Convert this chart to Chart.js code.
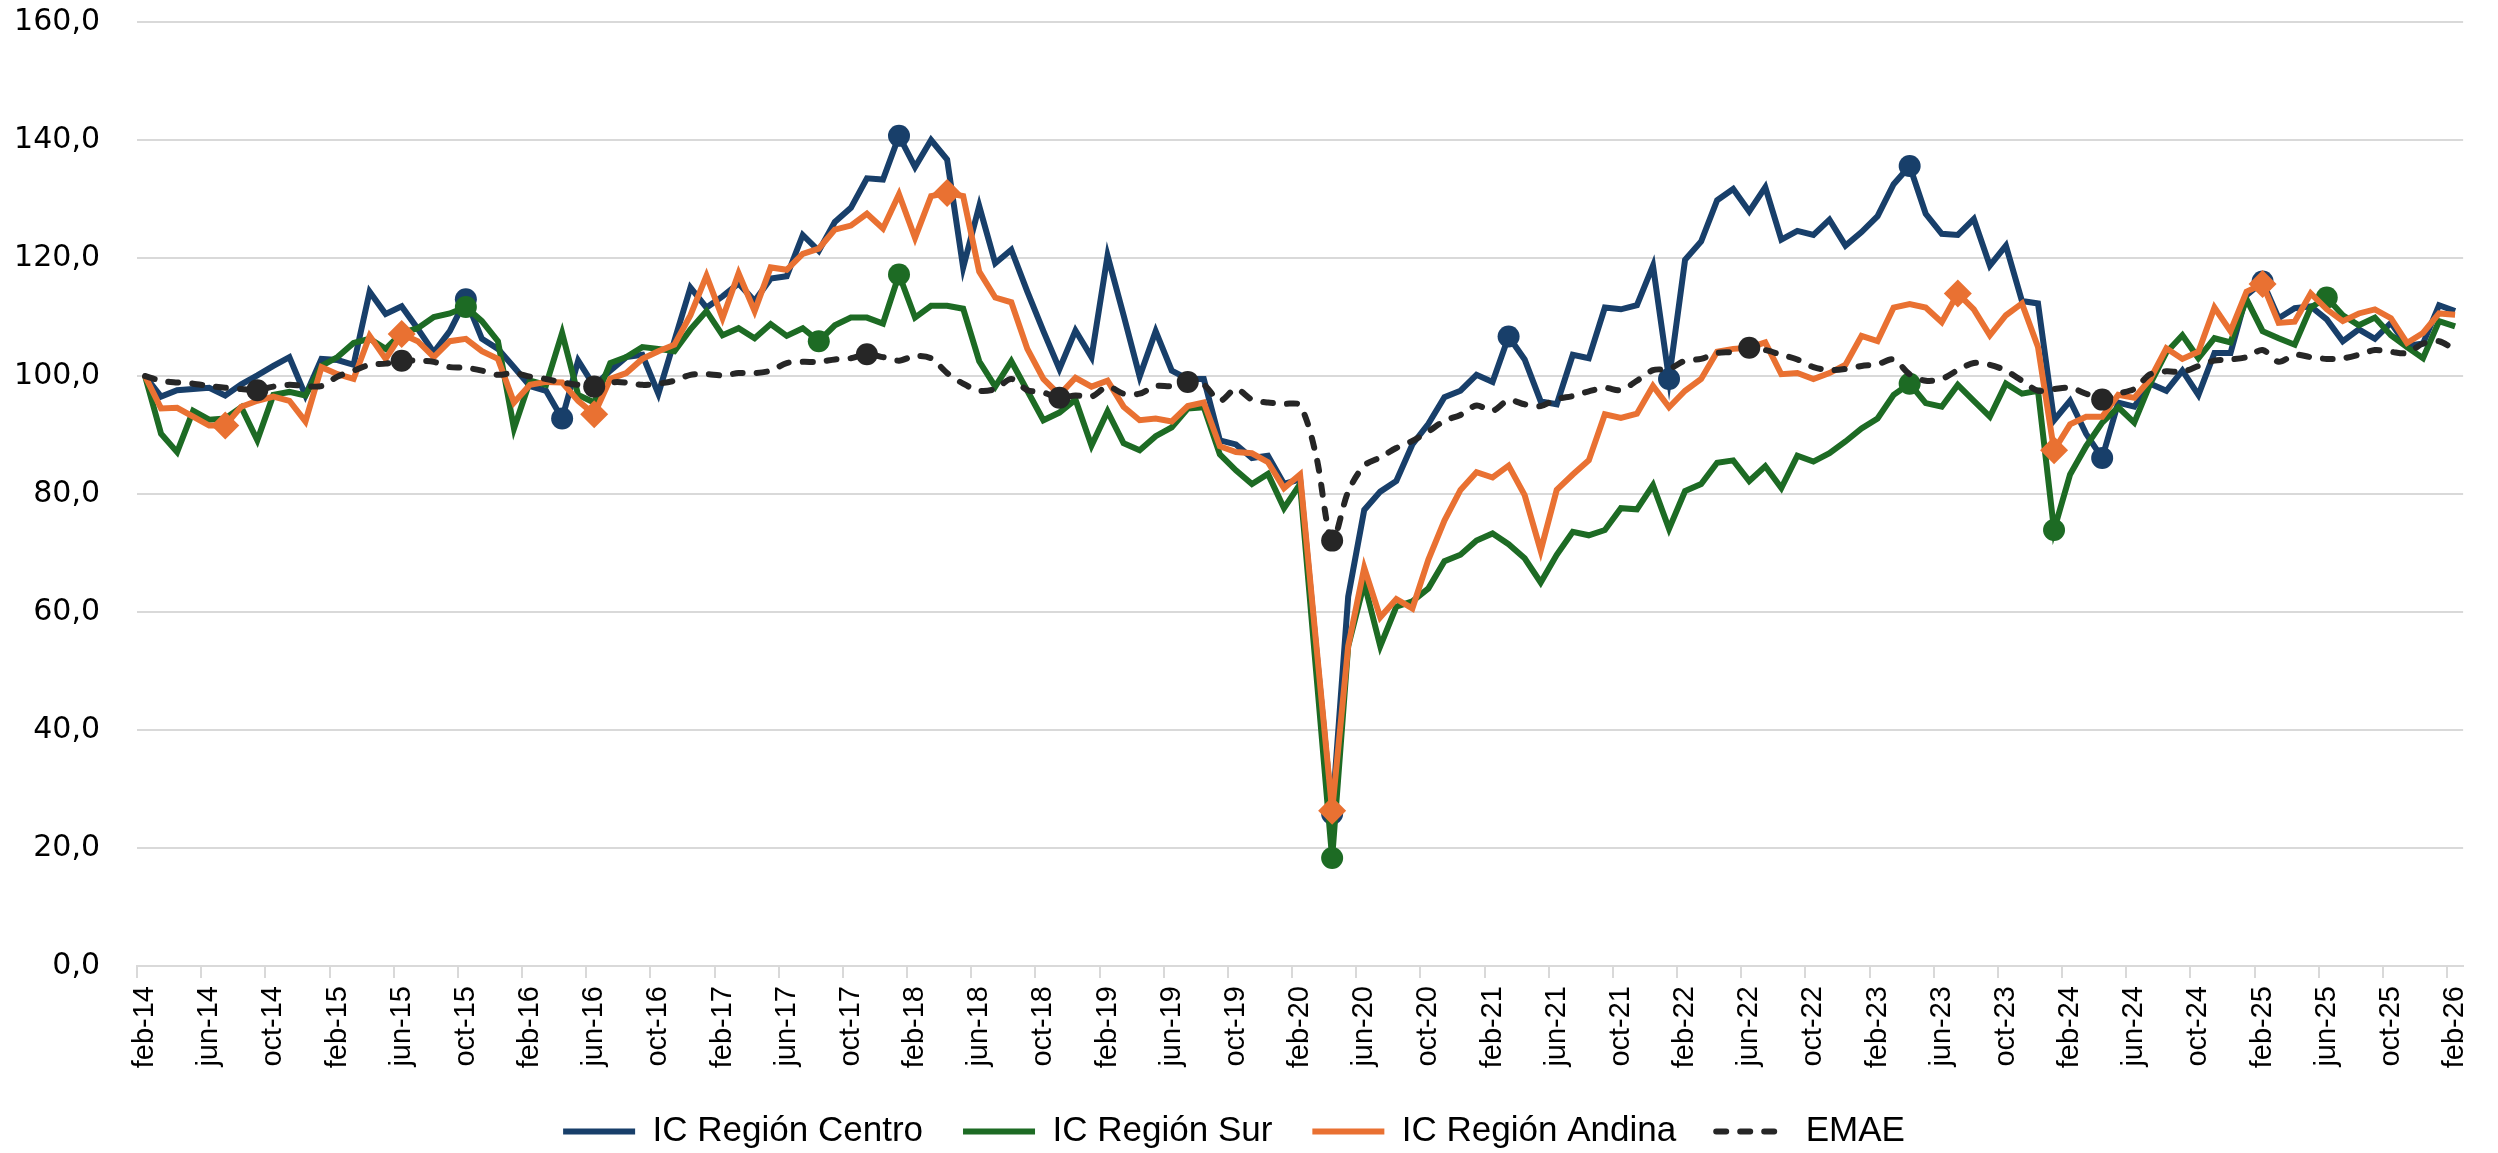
<!DOCTYPE html>
<html>
<head>
<meta charset="utf-8">
<script src="https://cdn.jsdelivr.net/npm/chart.js@4.4.1/dist/chart.umd.min.js"></script>
<style>
  html, body { margin: 0; padding: 0; background: #fff; }
  #wrap { width: 2498px; height: 1153px; }
</style>
</head>
<body>
<div id="wrap"><canvas id="myChart"></canvas></div>
<script>
// meses feb-14 .. feb-26
const monthNames = ['ene', 'feb', 'mar', 'abr', 'may', 'jun', 'jul', 'ago', 'sep', 'oct', 'nov', 'dic'];
const startYear = 14, startMonth = 1, nMonths = 145;

const centro = [
  100, 96.5, 97.6, 97.8, 98.0, 96.7, 98.6, 100.1, 101.7, 103.2, 96.7, 102.9, 102.7, 101.9, 114.3, 110.5, 111.8, 108.0, 104.0, 107.6,
  113.0, 106.3, 104.6, 101.5, 98.3, 97.5, 92.8, 102.6, 98.3, 100.9, 103.2, 103.6, 97.0, 106.0, 115.0, 111.6, 113.5, 115.7, 112.7, 116.5,
  116.9, 123.9, 121.2, 126.1, 128.5, 133.5, 133.3, 140.7, 135.4, 140.0, 136.7, 118.4, 128.8, 119.1, 121.4, 114.3, 107.6, 101.2, 107.7, 103.2,
  120.4, 110.3, 99.9, 107.6, 100.9, 99.5, 99.5, 89.1, 88.4, 86.1, 86.5, 81.7, 82.5, 54.0, 25.8, 62.6, 77.3, 80.4, 82.2, 88.4,
  91.9, 96.4, 97.5, 100.2, 99.0, 106.7, 102.8, 95.7, 95.2, 103.6, 103.0, 111.6, 111.3, 112.0, 118.7, 99.5, 119.7, 122.8, 129.8, 131.7,
  127.9, 132.0, 123.1, 124.6, 123.9, 126.5, 122.1, 124.4, 127.1, 132.5, 135.6, 127.5, 124.1, 123.9, 126.6, 118.7, 122.1, 112.7, 112.3, 92.5,
  95.8, 90.2, 86.1, 95.5, 94.8, 98.7, 97.5, 100.9, 96.8, 103.9, 103.9, 113.7, 116.0, 109.8, 111.5, 111.8, 109.6, 105.9, 107.9, 106.3,
  109.0, 105.1, 105.5, 112.0, 111.0
];
const sur = [
  100, 90.2, 87.1, 94.1, 92.6, 92.8, 94.7, 89.1, 96.8, 97.3, 96.7, 101.7, 103.2, 105.6, 106.3, 104.6, 107.3, 108.1, 110.0, 110.6,
  111.7, 109.3, 105.9, 91.1, 99.2, 98.5, 107.3, 96.8, 95.5, 102.2, 103.2, 104.9, 104.6, 104.2, 107.9, 111.0, 106.9, 108.1, 106.4, 108.8,
  106.8, 108.1, 105.9, 108.6, 109.9, 109.9, 108.9, 117.2, 109.9, 111.9, 111.9, 111.4, 102.5, 98.2, 102.5, 97.5, 92.5, 93.8, 96.0, 88.2,
  94.0, 88.6, 87.4, 89.8, 91.3, 94.5, 94.7, 86.7, 84.0, 81.7, 83.4, 77.6, 81.7, 50.0, 18.3, 54.2, 64.9, 54.2, 60.9, 61.8,
  64.0, 68.6, 69.7, 72.1, 73.3, 71.5, 69.1, 65.0, 69.7, 73.6, 73.0, 73.9, 77.6, 77.4, 81.5, 74.1, 80.5, 81.7, 85.3, 85.7,
  82.2, 84.7, 81.0, 86.5, 85.5, 86.9, 88.9, 91.1, 92.8, 96.8, 98.7, 95.4, 94.8, 98.5, 95.8, 93.1, 98.7, 97.0, 97.5, 73.9,
  83.3, 88.1, 92.1, 94.7, 92.1, 98.7, 104.0, 106.9, 103.0, 106.4, 105.7, 113.0, 107.6, 106.4, 105.3, 111.6, 113.3, 110.3, 108.6, 109.9,
  106.9, 104.9, 103.0, 109.3, 108.4
];
const andina = [
  100, 94.5, 94.6, 93.1, 91.6, 91.6, 94.8, 95.8, 96.5, 95.8, 92.3, 101.5, 100.3, 99.5, 106.8, 102.9, 107.1, 105.9, 103.2, 105.9,
  106.3, 104.2, 102.9, 95.5, 98.5, 99.0, 98.9, 95.8, 93.5, 99.5, 100.5, 102.9, 104.2, 105.3, 110.3, 117.0, 109.8, 117.4, 111.0, 118.4,
  118.0, 120.7, 121.6, 124.8, 125.5, 127.5, 125.0, 130.8, 123.4, 130.5, 131.0, 130.5, 117.7, 113.3, 112.5, 104.6, 99.5, 96.8, 99.7, 98.2,
  99.2, 94.8, 92.5, 92.8, 92.3, 94.9, 95.5, 88.1, 87.1, 86.9, 85.4, 81.0, 83.3, 54.8, 26.3, 54.2, 67.5, 59.1, 62.2, 60.6,
  68.9, 75.5, 80.7, 83.7, 82.8, 84.8, 79.8, 70.4, 80.7, 83.3, 85.7, 93.5, 92.9, 93.6, 98.3, 94.7, 97.5, 99.5, 104.1, 104.6,
  104.8, 105.7, 100.3, 100.5, 99.5, 100.5, 101.9, 106.8, 105.9, 111.6, 112.2, 111.6, 109.1, 114.0, 111.3, 106.9, 110.3, 112.3, 104.9, 87.4,
  91.8, 93.1, 93.1, 96.8, 96.3, 99.5, 104.7, 102.9, 104.1, 111.6, 107.6, 114.3, 115.6, 109.0, 109.2, 114.0, 111.3, 109.3, 110.6, 111.3,
  109.8, 105.6, 107.3, 110.6, 110.4
];
const emae = [
  100, 99.2, 98.9, 98.7, 98.3, 98.0, 97.8, 97.6, 98.2, 98.5, 98.3, 98.3, 99.9, 100.9, 101.9, 102.1, 102.6, 102.6, 102.4, 101.5,
  101.4, 100.9, 100.2, 100.5, 99.9, 99.5, 98.9, 98.5, 98.2, 98.9, 98.9, 98.5, 98.7, 99.2, 100.2, 100.3, 100.1, 100.5, 100.5, 100.9,
  102.2, 102.4, 102.4, 102.8, 103.0, 103.7, 103.2, 102.6, 103.4, 103.0, 100.5, 98.7, 97.5, 97.8, 99.5, 97.6, 97.2, 96.3, 96.7, 96.5,
  98.2, 97.0, 97.0, 98.3, 98.3, 99.0, 98.5, 95.8, 97.8, 96.0, 95.5, 95.3, 95.0, 86.5, 72.1, 80.4, 84.8, 86.2, 87.8, 89.0,
  90.6, 92.4, 93.4, 95.0, 94.1, 95.9, 95.2, 94.9, 96.1, 96.6, 97.4, 98.0, 97.6, 99.2, 101.0, 101.2, 102.6, 102.9, 103.9, 104.1,
  104.8, 104.4, 103.6, 102.8, 101.5, 101.0, 101.2, 101.7, 102.0, 102.8, 100.3, 99.2, 99.5, 101.0, 102.2, 101.9, 100.9, 99.2, 97.5, 97.8,
  98.0, 97.0, 96.0, 97.0, 97.8, 100.3, 100.8, 100.7, 101.7, 102.6, 102.8, 103.2, 104.4, 102.4, 103.6, 103.2, 102.9, 103.0, 103.6, 104.4,
  104.1, 103.9, 105.5, 105.9, 104.4
];

// puntos marcados en cada serie (indice del mes)
const centroMarks = [20, 26, 47, 74, 85, 95, 110, 122, 132];
const surMarks = [20, 42, 47, 74, 110, 119, 136];
const andinaMarks = [5, 16, 28, 50, 74, 113, 119, 132];
const emaeMarks = [7, 16, 28, 45, 57, 65, 74, 100, 122];

const yTicks = [0, 20, 40, 60, 80, 100, 120, 140, 160];

let labels = [];
for (let i = 0; i < nMonths; i++) {
  let m = (startMonth + i) % 12;
  let y = startYear + Math.floor((startMonth + i) / 12);
  labels.push(monthNames[m] + '-' + y);
}

function radii(marks, r) {
  return labels.map((_, i) => marks.includes(i) ? r : 0);
}

const ctx = document.getElementById('myChart');
const gridGray = '#d9d9d9';

new Chart(ctx, {
  type: 'line',
  data: {
    labels: labels,
    datasets: [
      {
        label: 'IC Región Centro',
        data: centro,
        borderColor: '#183F6A',
        backgroundColor: '#183F6A',
        borderWidth: 6,
        pointRadius: radii(centroMarks, 11),
        pointBorderWidth: 0,
        pointStyle: 'circle',
        order: 3
      },
      {
        label: 'IC Región Sur',
        data: sur,
        borderColor: '#1D6B24',
        backgroundColor: '#1D6B24',
        borderWidth: 6,
        pointRadius: radii(surMarks, 11),
        pointBorderWidth: 0,
        pointStyle: 'circle',
        order: 2
      },
      {
        label: 'IC Región Andina',
        data: andina,
        borderColor: '#E97132',
        backgroundColor: '#E97132',
        borderWidth: 6,
        pointRadius: radii(andinaMarks, 14),
        pointBorderWidth: 0,
        pointStyle: 'rectRot',
        order: 1
      },
      {
        label: 'EMAE',
        data: emae,
        borderColor: '#262626',
        backgroundColor: '#262626',
        borderWidth: 6,
        borderDash: [10, 14],
        borderCapStyle: 'round',
        tension: 0.3,
        pointRadius: radii(emaeMarks, 11),
        pointBorderWidth: 0,
        pointStyle: 'circle',
        order: 0
      }
    ]
  },
  options: {
    responsive: true,
    maintainAspectRatio: false,
    devicePixelRatio: 1,
    animation: false,
    layout: { padding: { top: 22, right: 30, bottom: -6, left: 0 } },
    scales: {
      x: {
        type: 'category',
        offset: true,
        afterFit: (scale) => { scale.height = 108; },
        grid: {
          offset: true,
          drawOnChartArea: false,
          tickLength: 12,
          lineWidth: 2,
          color: (c) => c.index % 4 === 0 ? gridGray : 'rgba(0,0,0,0)',
          tickColor: (c) => c.index % 4 === 0 ? gridGray : 'rgba(0,0,0,0)'
        },
        border: { display: true, color: gridGray, width: 2 },
        ticks: {
          autoSkip: false,
          maxRotation: 90,
          minRotation: 90,
          padding: 8,
          color: '#000',
          font: { family: 'Liberation Sans', size: 29 },
          callback: function (value, index) {
            return index % 4 === 0 ? this.getLabelForValue(value) : '';
          }
        }
      },
      y: {
        min: yTicks[0],
        max: yTicks[yTicks.length - 1],
        afterFit: (scale) => {
          scale.width = 137;
          // the tick padding should not push the plot area down
          scale.paddingTop = 16;
          scale.paddingBottom = 16;
        },
        grid: { color: gridGray, lineWidth: 2, drawTicks: false },
        border: { display: false },
        ticks: {
          stepSize: 20,
          padding: 37,
          color: '#000',
          font: { family: 'DejaVu Sans', size: 30 },
          callback: (v) => v.toFixed(1).replace('.', ',')
        }
      }
    },
    plugins: {
      legend: {
        position: 'bottom',
        labels: {
          usePointStyle: true,
          pointStyleWidth: 72,
          padding: 40,
          color: '#000',
          font: { family: 'Liberation Sans', size: 35 },
          sort: (a, b) => a.datasetIndex - b.datasetIndex,
          generateLabels: (chart) => {
            let items = Chart.defaults.plugins.legend.labels.generateLabels(chart);
            return items.map(item => {
              let ds = chart.data.datasets[item.datasetIndex];
              item.pointStyle = 'line';
              item.lineWidth = ds.borderWidth;
              item.strokeStyle = ds.borderColor;
              item.lineDash = ds.borderDash || [];
              item.lineCap = ds.borderCapStyle || 'butt';
              return item;
            });
          }
        }
      },
      tooltip: { enabled: false }
    }
  }
});
</script>
</body>
</html>
